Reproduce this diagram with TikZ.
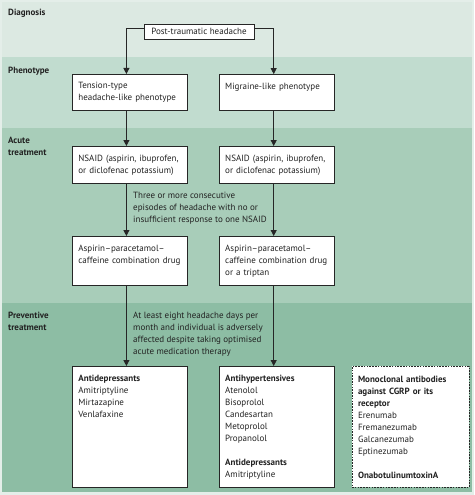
\documentclass[tikz,border=0pt]{standalone}
\usepackage{fontspec}
\setmainfont{PT Sans}
\usetikzlibrary{arrows.meta, positioning}
\definecolor{framebg}{HTML}{E4EEE9}
\definecolor{diagbg}{HTML}{DCE9E2}
\definecolor{phenobg}{HTML}{C1DCCF}
\definecolor{acutebg}{HTML}{A8CDB9}
\definecolor{prevbg}{HTML}{8DBDA4}
\definecolor{inkgray}{HTML}{222222}
\tikzset{
    band/.style={
        draw=none,
        fill=#1
    },
    stage/.style={
        anchor=north west,
        align=left,
        inner sep=0pt,
        text=inkgray,
        font=\bfseries\fontsize{9}{12}\selectfont
    },
    box/.style={
        rectangle,
        draw=black!85,
        line width=0.8pt,
        fill=white,
        anchor=north west,
        text width=103pt,
        align=left,
        inner xsep=6pt,
        inner ysep=8pt,
        text=inkgray,
        font=\fontsize{9}{12}\selectfont
    },
    note/.style={
        anchor=north west,
        align=left,
        inner sep=0pt,
        text=inkgray,
        font=\fontsize{9}{12}\selectfont
    },
    arrow/.style={
        -{Triangle[length=6pt,width=6pt]},
        line width=0.8pt,
        draw=black!85
    }
}

\begin{document}
\begin{tikzpicture}[x=1pt, y=-1pt]
            % background bands
            \useasboundingbox[fill=framebg] (0,0) rectangle (474,495);
            \fill[band=diagbg]  (2,2)   rectangle (472,57);
            \fill[band=phenobg] (2,57)  rectangle (472,128);
            \fill[band=acutebg] (2,128) rectangle (472,303);
            \fill[band=prevbg]  (2,303) rectangle (472,492);

            \node[stage] (diag)  at (8,9)   {Diagnosis};
            \node[stage] (pheno) at (8,67)  {Phenotype};
            \node[stage] (acute) at (8,137) {Acute\\treatment};
            \node[stage] (prev)  at (8,312) {Preventive\\treatment};

            % boxes
            \node[box, anchor=center, text width=, minimum width=110pt, minimum height=15pt, inner ysep=3pt] (post) at (199,31.5) {Post-traumatic headache};
            \node[box, minimum height=36pt]                                 (tension)  at (72,74)  {Tension-type\\headache-like phenotype};
            \node[box, minimum height=36pt, text depth=13pt, right=31pt of tension] (migraine) {Migraine-like phenotype};
            \node[box, minimum height=37pt]                                 (nsaidL)   at (72,146) {NSAID (aspirin, ibuprofen,\\or diclofenac potassium)};
            \node[box, minimum height=37pt, right=31pt of nsaidL]           (nsaidR)   {NSAID (aspirin, ibuprofen,\\or diclofenac potassium)};
            \node[box, minimum height=49pt, text depth=26pt]                (aspL)     at (72,236) {Aspirin--paracetamol--\\caffeine combination drug};
            \node[box, minimum height=49pt, right=31pt of aspL]             (aspR)     {Aspirin--paracetamol--\\caffeine combination drug\\or a triptan};
            \node[box, minimum height=121pt, text depth=98pt]               (antidep)  at (72,366) {\textbf{Antidepressants}\\Amitriptyline\\Mirtazapine\\Venlafaxine};
            \node[box, minimum height=121pt, right=31pt of antidep]         (antihyp)  {\textbf{Antihypertensives}\\Atenolol\\Bisoprolol\\Candesartan\\Metoprolol\\Propanolol\\[12pt]\textbf{Antidepressants}\\Amitriptyline};
            \node[box, minimum height=121pt, text width=105pt, dash pattern=on 1.6pt off 1.2pt, right=17pt of antihyp] (mabs) {\textbf{Monoclonal antibodies}\\\textbf{against CGRP or its}\\\textbf{receptor}\\Erenumab\\Fremanezumab\\Galcanezumab\\Eptinezumab\\[12pt]\textbf{OnabotulinumtoxinA}};

            % conditions
            \node[note] (cond1) at (133,192) {Three or more consecutive\\episodes of headache with no or\\insufficient response to one NSAID};
            \node[note] (cond2) at (133,312) {At least eight headache days per\\month and individual is adversely\\affected despite taking optimised\\acute medication therapy};

            % connectors
            \draw[arrow] ([yshift=3pt]post.west) -| ([xshift=-3.5pt]tension.north);
            \draw[arrow] ([yshift=3pt]post.east) -| ([xshift=-3pt]migraine.north);
            \draw[arrow] ([xshift=-3.5pt]tension.south) -- ([xshift=-3.5pt]nsaidL.north);
            \draw[arrow] ([xshift=-3pt]migraine.south)  -- ([xshift=-3pt]nsaidR.north);
            \draw[arrow] ([xshift=-3.5pt]nsaidL.south)  -- ([xshift=-3.5pt]aspL.north);
            \draw[arrow] ([xshift=-3pt]nsaidR.south)    -- ([xshift=-3pt]aspR.north);
            \draw[arrow] ([xshift=-3.5pt]aspL.south)    -- ([xshift=-3.5pt]antidep.north);
            \draw[arrow] ([xshift=-3pt]aspR.south)      -- ([xshift=-3pt]antihyp.north);
        \end{tikzpicture}
\end{document}
